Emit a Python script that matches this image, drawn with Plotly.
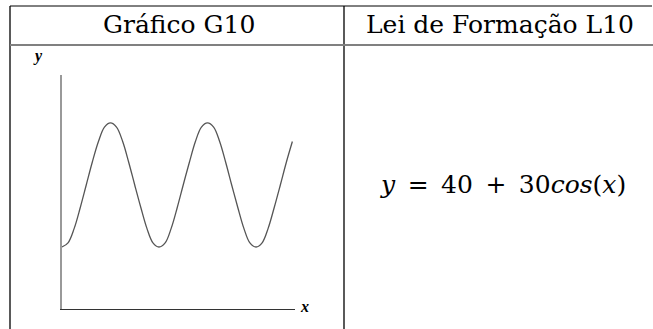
import plotly.graph_objects as go

W, H = 653, 329

# curve (x in radians, y in chart units)
curve_x = [0, 0.39, 0.79, 1.18, 1.57, 1.96, 2.36, 2.75, 3.14, 3.53, 3.93, 4.32,
           4.71, 5.11, 5.50, 5.89, 6.28, 6.68, 7.07, 7.46, 7.85, 8.25, 8.64,
           9.03, 9.42, 9.82, 10.21, 10.60, 10.99, 11.39, 11.78, 12.17, 12.57,
           12.96, 13.35, 13.74, 14.14, 14.53, 14.92]
curve_y = [10, 12, 19, 29, 40, 51, 61, 68, 70, 68, 61, 51,
           40, 29, 19, 12, 10, 12, 19, 29, 40, 51, 61,
           68, 70, 68, 61, 51, 40, 29, 19, 12, 10,
           12, 19, 29, 40, 51, 61]

header_left = "Gráfico G10"
header_right = "Lei de Formação L10"
formula = "<i>y</i>\u2002=\u200240\u2002+\u200230<i>cos</i>(<i>x</i>)"


def px(x):
    return x / W


def py(y):
    return 1 - y / H


fig = go.Figure()
fig.add_trace(go.Scatter(x=curve_x, y=curve_y, mode="lines",
                         line=dict(color="#555555", width=1.3, shape="spline"),
                         hoverinfo="skip"))

fig.update_layout(
    width=W, height=H,
    margin=dict(l=0, r=0, t=0, b=0),
    paper_bgcolor="white", plot_bgcolor="white",
    showlegend=False,
    xaxis=dict(domain=[px(62), px(295)], range=[0, 15.09], showgrid=False,
               zeroline=False, showticklabels=False, ticks="",
               showline=True, linecolor="#333333", linewidth=1),
    yaxis=dict(domain=[py(309), py(75)], range=[-20, 93.2], showgrid=False,
               zeroline=False, showticklabels=False, ticks="",
               showline=True, linecolor="#999999", linewidth=2),
)

# table lines
lines = [
    (10, 6, 652, 6, "black", 1),
    (10, 6, 10, 329, "black", 1.3),
    (344, 6, 344, 329, "black", 1.3),
    (10, 45, 653, 45, "#808080", 2),
]
for x0, y0, x1, y1, c, w in lines:
    fig.add_shape(type="line", xref="paper", yref="paper",
                  x0=px(x0), y0=py(y0), x1=px(x1), y1=py(y1),
                  line=dict(color=c, width=w))

serif = "DejaVu Serif"
label_font = "Liberation Serif"


def note(text, x, y, family, size):
    fig.add_annotation(text=text, x=px(x), y=py(y), xref="paper", yref="paper",
                       xanchor="center", yanchor="middle", showarrow=False,
                       font=dict(family=family, size=size, color="black"))


note(header_left, 179, 25, serif, 25)
note(header_right, 500, 25, serif, 25)
note(formula, 503, 184, serif, 25)
note("<b><i>y</i></b>", 38, 56, label_font, 16)
note("<b><i>x</i></b>", 304, 306, label_font, 16)

fig.write_html("out.html", config={"displayModeBar": False},
               post_script="document.body.style.margin='0';")
